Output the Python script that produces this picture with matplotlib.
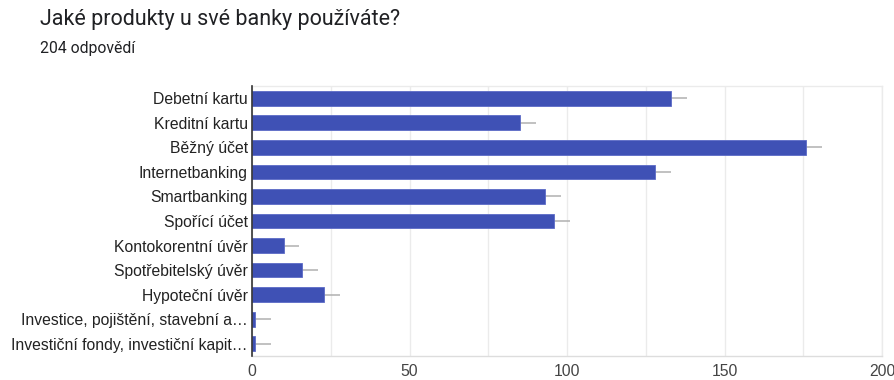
import matplotlib
matplotlib.use("Agg")
import matplotlib.pyplot as plt
from matplotlib.ticker import MultipleLocator

# Survey results - number of respondents per product
products = [
    "Debetní kartu",
    "Kreditní kartu",
    "Běžný účet",
    "Internetbanking",
    "Smartbanking",
    "Spořící účet",
    "Kontokorentní úvěr",
    "Spotřebitelský úvěr",
    "Hypoteční úvěr",
    "Investice, pojištění, stavební a…",
    "Investiční fondy, investiční kapit…",
]
counts = [133, 85, 176, 128, 93, 96, 10, 16, 23, 1, 1]
whisker = [5] * len(counts)
x_ticks = [0, 50, 100, 150, 200]

title = "Jaké produkty u své banky používáte?"
subtitle = "204 odpovědí"

bar_color = "#3f51b5"
grid_color = "#ebebeb"

fig = plt.figure(figsize=(8.95, 3.8), dpi=100)
ax = fig.add_axes([0.2816, 0.0632, 0.7039, 0.7105])

y = list(range(len(products)))
ax.barh(y, counts, height=0.6, color=bar_color, edgecolor="#5c6bc6",
        linewidth=0.6, zorder=3)

# short grey whiskers to the right of each bar
for yi, c, w in zip(y, counts, whisker):
    ax.plot([c, c + w], [yi, yi], color="#b0b0b0", linewidth=1.1,
            solid_capstyle="butt", zorder=2)

ax.set_xlim(0, 200)
ax.set_ylim(len(products) - 0.5, -0.5)
ax.set_xticks(x_ticks)
ax.xaxis.set_minor_locator(MultipleLocator(25))
ax.set_yticks(y)
ax.set_yticklabels(products, fontsize=11.35, color="#222222",
                   family=["Liberation Sans", "DejaVu Sans"])
for lbl in ax.get_xticklabels():
    lbl.set_fontsize(11.3)
    lbl.set_color("#444444")
    lbl.set_family(["Liberation Sans", "DejaVu Sans"])

ax.grid(axis="x", which="both", color=grid_color, linewidth=1, zorder=0)
ax.tick_params(axis="both", which="both", length=0)
ax.tick_params(axis="y", pad=3)
ax.tick_params(axis="x", pad=6)

for side in ["top", "right"]:
    ax.spines[side].set_color(grid_color)
    ax.spines[side].set_linewidth(1)
ax.spines["bottom"].set_color("#dddddd")
ax.spines["bottom"].set_linewidth(1)
ax.spines["left"].set_color("#333333")
ax.spines["left"].set_linewidth(1.2)
ax.spines["left"].set_zorder(4)

fig.text(40 / 895, 1 - 20 / 380, title, fontsize=15.5, color="#202124",
         family="Roboto", va="center", ha="left")
fig.text(40 / 895, 1 - 48 / 380, subtitle, fontsize=11.3, color="#202124",
         family="Roboto", va="center", ha="left")

fig.savefig("out.png", dpi=100, facecolor="white")
